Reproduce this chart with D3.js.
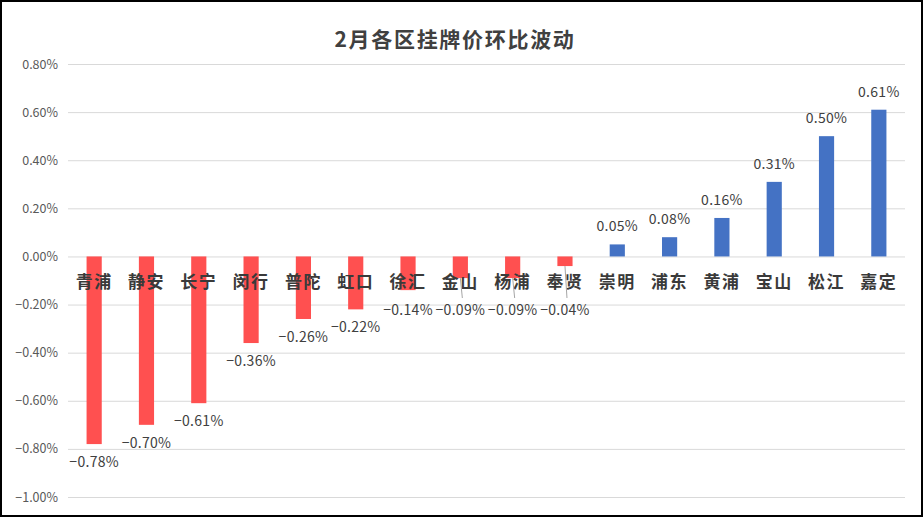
<!DOCTYPE html>
<html>
<head>
<meta charset="utf-8">
<script src="https://cdn.jsdelivr.net/npm/d3@7"></script>
<style>
  body { margin: 0; background: #fff; }
  svg { display: block; }
</style>
</head>
<body>
<div id="chart-container"></div>
<script>
const width = 923;
const height = 517;

// 2月各区挂牌价环比 (%)
const categories = ["青浦", "静安", "长宁", "闵行", "普陀", "虹口", "徐汇", "金山",
                    "杨浦", "奉贤", "崇明", "浦东", "黄浦", "宝山", "松江", "嘉定"];
const values = [-0.78, -0.70, -0.61, -0.36, -0.26, -0.22, -0.14, -0.09,
                -0.09, -0.04, 0.05, 0.08, 0.16, 0.31, 0.50, 0.61];
const yTicks = [-1.0, -0.8, -0.6, -0.4, -0.2, 0, 0.2, 0.4, 0.6, 0.8];

const cnFont = "'Noto Sans CJK SC', 'Noto Sans', sans-serif";
const fmt = v => d3.format(".2f")(v).replace("-", "−") + "%";

const x = d3.scaleBand(categories, [68, 905])
    .paddingInner(0.71)
    .paddingOuter(0.355);
const y = d3.scaleLinear([-1, 0.8], [497, 64]);

const svg = d3.select("#chart-container")
  .append("svg")
    .attr("width", width)
    .attr("height", height)
    .attr("viewBox", [0, 0, width, height]);

// frame
svg.append("rect")
    .attr("x", 1).attr("y", 1)
    .attr("width", width - 2).attr("height", height - 2)
    .attr("fill", "#fff")
    .attr("stroke", "#000")
    .attr("stroke-width", 2);

// title
svg.append("text")
    .attr("x", 455).attr("y", 47)
    .attr("text-anchor", "middle")
    .attr("font-family", cnFont)
    .attr("font-weight", 700)
    .attr("font-size", 21)
    .attr("letter-spacing", 1.7)
    .attr("fill", "#404040")
    .text("2月各区挂牌价环比波动");

// y axis: gridlines + labels
const yAxis = svg.append("g")
    .attr("transform", "translate(68,0)")
    .call(d3.axisLeft(y).tickValues(yTicks).tickSize(-(905 - 68)).tickPadding(10).tickFormat(fmt));
yAxis.select(".domain").remove();
yAxis.selectAll(".tick line").attr("stroke", "#d9d9d9").attr("stroke-width", 1);
yAxis.selectAll(".tick text")
    .attr("fill", "#595959")
    .attr("font-family", cnFont)
    .attr("font-size", 12.5);

// bars
svg.append("g")
  .selectAll("rect")
  .data(values)
  .join("rect")
    .attr("x", (d, i) => x(categories[i]))
    .attr("width", x.bandwidth())
    .attr("y", d => y(Math.max(0, d)))
    .attr("height", d => Math.abs(y(d) - y(0)))
    .attr("fill", d => d < 0 ? "#ff5050" : "#4472c4");

// category labels on the zero line
svg.append("g")
  .selectAll("text")
  .data(categories)
  .join("text")
    .attr("x", d => x(d) + x.bandwidth() / 2)
    .attr("y", y(0) + 32)
    .attr("text-anchor", "middle")
    .attr("font-family", cnFont)
    .attr("font-weight", 700)
    .attr("font-size", 17)
    .attr("letter-spacing", 1.5)
    .attr("fill", "#3a3a3a")
    .text(d => d);

// value labels, negatives kept clear of the category labels
const minNegY = 310;
const labelY = d => d >= 0 ? y(d) - 18 : Math.max(y(d) + 18, minNegY);

const labels = svg.append("g");
labels.selectAll("line")
  .data(values.map((v, i) => ({ v, c: categories[i] })).filter(d => d.v < 0 && y(d.v) + 18 < minNegY - 12))
  .join("line")
    .attr("x1", d => x(d.c) + x.bandwidth() / 2)
    .attr("x2", d => x(d.c) + x.bandwidth() / 2 + 2)
    .attr("y1", d => y(d.v))
    .attr("y2", minNegY - 12)
    .attr("stroke", "#a6a6a6")
    .attr("stroke-width", 1);

labels.selectAll("text")
  .data(values)
  .join("text")
    .attr("x", (d, i) => x(categories[i]) + x.bandwidth() / 2)
    .attr("y", labelY)
    .attr("dy", "0.35em")
    .attr("text-anchor", "middle")
    .attr("font-family", cnFont)
    .attr("font-size", 14)
    .attr("letter-spacing", 0.3)
    .attr("fill", "#404040")
    .text(fmt);
</script>
</body>
</html>
